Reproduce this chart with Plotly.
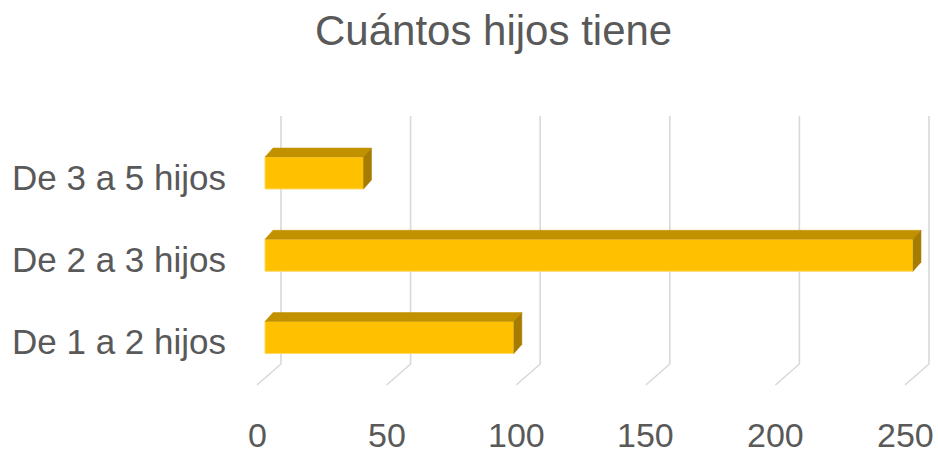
import plotly.graph_objects as go

# ---- data ----
categories = ["De 1 a 2 hijos", "De 2 a 3 hijos", "De 3 a 5 hijos"]
values = [96, 250, 38]
tick_values = [0, 50, 100, 150, 200, 250]
title_text = "Cuántos hijos tiene"

# ---- layout constants (pixels) ----
W, H = 938, 457
X0PX, PXU = 265.0, 648.0 / 250.0      # bar-front plane: pixel of value 0, px per unit
Y0PX, PYU = 337.5, 82.25               # pixel of first category centre, px per category
BAR_W = 32.0 / PYU
BAR_DX, BAR_DY = 8.0 / PXU, 9.0 / PYU   # bar depth offset
BACK_DX = 16.0 / PXU                    # back wall offset from bar-front plane
FRONT_DX = -8.0 / PXU                   # front floor offset
GRID_TOP = (Y0PX - 116.0) / PYU
GRID_BOT = (Y0PX - 364.0) / PYU
FLOOR_FRONT = (Y0PX - 385.0) / PYU
TICK_Y = (Y0PX - 435.0) / PYU

xr = [(0 - X0PX) / PXU, (W - X0PX) / PXU]
yr = [(Y0PX - H) / PYU, Y0PX / PYU]

GOLD = "#FFC000"
TOP = "#C29100"
SIDE = "#A67C00"
GRID = "#D9D9D9"
TXT = "#595959"
FONT = "Liberation Sans, Arial, sans-serif"

fig = go.Figure()

# gridlines on back wall + floor diagonals (base axes, drawn beneath)
gx, gy = [], []
for t in tick_values:
    gx += [t + BACK_DX, t + BACK_DX, t + FRONT_DX, None]
    gy += [GRID_TOP, GRID_BOT, FLOOR_FRONT, None]
fig.add_trace(go.Scatter(x=gx, y=gy, mode="lines", line=dict(color=GRID, width=1.6),
                         hoverinfo="skip", showlegend=False, xaxis="x", yaxis="y"))

# bar front faces (overlay axes)
idx = list(range(len(categories)))
fig.add_trace(go.Bar(x=values, y=idx, orientation="h", width=BAR_W,
                     marker=dict(color=GOLD, line=dict(color="#FFD966", width=1)),
                     hovertext=categories, showlegend=False, xaxis="x2", yaxis="y2"))

# 3D top and side faces
for i, v in zip(idx, values):
    top_y = i + BAR_W / 2
    bot_y = i - BAR_W / 2
    fig.add_trace(go.Scatter(
        x=[0, v, v + BAR_DX, BAR_DX, 0],
        y=[top_y, top_y, top_y + BAR_DY, top_y + BAR_DY, top_y],
        fill="toself", fillcolor=TOP, mode="lines", line=dict(color=TOP, width=0.5),
        hoverinfo="skip", showlegend=False, xaxis="x2", yaxis="y2"))
    fig.add_trace(go.Scatter(
        x=[v, v + BAR_DX, v + BAR_DX, v, v],
        y=[bot_y, bot_y + BAR_DY, top_y + BAR_DY, top_y, bot_y],
        fill="toself", fillcolor=SIDE, mode="lines", line=dict(color=SIDE, width=0.5),
        hoverinfo="skip", showlegend=False, xaxis="x2", yaxis="y2"))

annotations = []
# value tick labels at the front floor
for t in tick_values:
    annotations.append(dict(x=t + FRONT_DX, y=TICK_Y, xref="x", yref="y", text=str(t),
                            showarrow=False, xanchor="center", yanchor="middle",
                            font=dict(family=FONT, size=34, color=TXT)))
# category labels
for i, c in zip(idx, categories):
    annotations.append(dict(x=228.0 / W, y=i, xref="paper", yref="y", text=c,
                            showarrow=False, xanchor="right", yanchor="middle", yshift=-4,
                            font=dict(family=FONT, size=35, color=TXT)))
# title
annotations.append(dict(x=494.0 / W, y=1 - 31.0 / H, xref="paper", yref="paper", text=title_text,
                        showarrow=False, xanchor="center", yanchor="middle",
                        font=dict(family=FONT, size=42, color=TXT)))

ax = dict(showgrid=False, zeroline=False, showticklabels=False, ticks="", showline=False,
          fixedrange=True, domain=[0, 1])
fig.update_layout(
    width=W, height=H, margin=dict(l=0, r=0, t=0, b=0),
    paper_bgcolor="white", plot_bgcolor="white",
    xaxis=dict(range=xr, **ax),
    yaxis=dict(range=yr, **ax),
    xaxis2=dict(range=xr, overlaying="x", **ax),
    yaxis2=dict(range=yr, overlaying="y", **ax),
    annotations=annotations,
    showlegend=False,
)

fig.write_html("out.html")
